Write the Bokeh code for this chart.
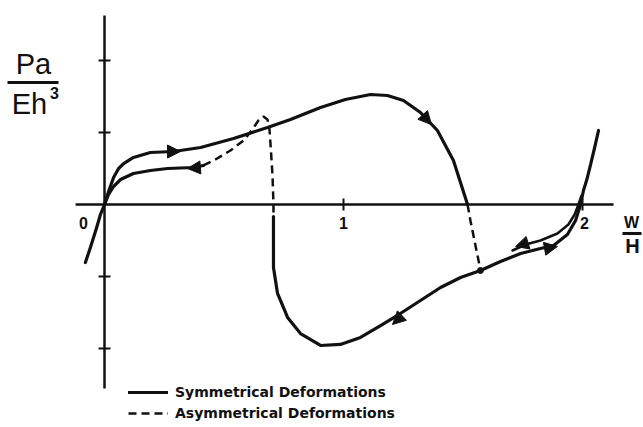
from bokeh.plotting import figure
from bokeh.models import Range1d, Label, Arrow, NormalHead, Legend, LegendItem
from bokeh.embed import file_html
from bokeh.resources import INLINE

# ---------------- data (w/H , Pa/Eh^3 in tick units) ----------------
# symmetrical loading path: through origin, up to the peak, down to the axis
load_x = [-0.080, -0.059, -0.034, -0.017, 0.0, 0.017, 0.038, 0.059, 0.080, 0.121, 0.192, 0.289,
          0.402, 0.540, 0.682, 0.778, 0.904, 1.008, 1.113, 1.184, 1.251, 1.322, 1.393, 1.460, 1.519]
load_y = [-0.806, -0.597, -0.333, -0.139, 0.0, 0.181, 0.375, 0.500, 0.569, 0.653, 0.722, 0.736,
          0.792, 0.917, 1.069, 1.181, 1.347, 1.458, 1.528, 1.514, 1.444, 1.278, 1.028, 0.611, 0.0]

# asymmetric (dashed) drop after the zero crossing
desc_x = [1.519, 1.531, 1.548, 1.565, 1.573]
desc_y = [0.0, -0.222, -0.500, -0.778, -0.917]

# lower symmetrical branch: from the snap-through line down, around the minimum, up past w/H = 2
lower_x = [0.707, 0.707, 0.707, 0.724, 0.766, 0.820, 0.904, 0.987, 1.071, 1.155, 1.238, 1.322,
           1.406, 1.490, 1.573, 1.657, 1.741, 1.824, 1.879, 1.937, 1.971, 1.992, 2.004, 2.017,
           2.033, 2.050, 2.067]
lower_y = [-0.167, -0.500, -0.875, -1.236, -1.569, -1.792, -1.958, -1.944, -1.847, -1.681, -1.514,
           -1.333, -1.153, -1.014, -0.917, -0.792, -0.681, -0.611, -0.569, -0.417, -0.222, 0.0,
           0.194, 0.333, 0.542, 0.778, 1.028]

# second strand of the small loop near w/H = 2
loop_x = [1.707, 1.762, 1.824, 1.895, 1.941, 1.967, 1.983, 1.996]
loop_y = [-0.639, -0.556, -0.500, -0.403, -0.278, -0.139, 0.0, 0.125]

# symmetrical return branch near the origin (lower plateau)
ret_x = [0.0, 0.017, 0.038, 0.067, 0.121, 0.192, 0.264, 0.372, 0.414]
ret_y = [0.0, 0.139, 0.250, 0.347, 0.431, 0.472, 0.500, 0.514, 0.542]

# asymmetrical (dashed) bump and snap line
bump_x = [0.414, 0.464, 0.527, 0.582, 0.619, 0.644, 0.665, 0.682, 0.690, 0.695, 0.703, 0.707, 0.707]
bump_y = [0.542, 0.625, 0.750, 0.889, 1.042, 1.167, 1.222, 1.181, 1.056, 0.819, 0.403, 0.0, -0.167]

# junction point
junc_x = [1.573]
junc_y = [-0.917]

# arrowheads (tail -> tip, along the curves)
arr_x0 = [0.255, 0.400, 1.322, 1.280, 1.803, 1.824]
arr_y0 = [0.736, 0.514, 1.278, -1.431, -0.500, -0.625]
arr_x1 = [0.318, 0.347, 1.368, 1.205, 1.720, 1.895]
arr_y1 = [0.736, 0.500, 1.110, -1.667, -0.583, -0.583]

# axes
x_axis_ext = [-0.121, 2.130]
y_axis_ext = [-2.556, 2.625]
x_ticks = [1, 2]
y_ticks = [-2, -1, 1, 2]
tick_label_x = [0, 1, 2]
tick_labels = ["0", "1", "2"]

legend_labels = ["Symmetrical Deformations", "Asymmetrical Deformations"]

# ---------------- layout helpers (page pixel -> data) ----------------
def X(px):
    return (px - 104) / 239.0

def Y(py):
    return (204 - py) / 72.0

W, H = 643, 427
p = figure(width=W, height=H, output_backend="svg", toolbar_location=None,
           x_range=Range1d(X(0), X(W)), y_range=Range1d(Y(H), Y(0)),
           x_axis_type=None, y_axis_type=None, min_border=0)
p.grid.visible = False
p.outline_line_color = None
p.background_fill_color = "white"

BLACK = "#111111"
LW = 3.2
DASH = "8 5"

# axes
p.line(x_axis_ext, [0, 0], line_color=BLACK, line_width=2.5)
p.line([0, 0], y_axis_ext, line_color=BLACK, line_width=2.5)
p.segment(x0=x_ticks, y0=[-0.083] * len(x_ticks), x1=x_ticks, y1=[0.083] * len(x_ticks),
          line_color=BLACK, line_width=2)
p.segment(x0=[-0.025] * len(y_ticks), y0=y_ticks, x1=[0.025] * len(y_ticks), y1=y_ticks,
          line_color=BLACK, line_width=2)

# curves
r_load = p.line(load_x, load_y, line_color=BLACK, line_width=LW, line_join="round", line_cap="round")
p.line(lower_x, lower_y, line_color=BLACK, line_width=LW, line_join="round", line_cap="round")
p.line(loop_x, loop_y, line_color=BLACK, line_width=2.5, line_join="round", line_cap="round")
p.line(ret_x, ret_y, line_color=BLACK, line_width=LW, line_join="round", line_cap="round")
r_bump = p.line(bump_x, bump_y, line_color=BLACK, line_width=2.5, line_dash=DASH)
p.line(desc_x, desc_y, line_color=BLACK, line_width=2.5, line_dash=DASH)
p.scatter(junc_x, junc_y, size=6, color=BLACK)

for x0, y0, x1, y1 in zip(arr_x0, arr_y0, arr_x1, arr_y1):
    p.add_layout(Arrow(x_start=x0, y_start=y0, x_end=x1, y_end=y1, line_alpha=0,
                       end=NormalHead(size=13, fill_color=BLACK, line_color=BLACK, line_width=1)))

# tick labels
label_offsets = {0: X(83), 1: 1.0, 2: X(584)}
for tx, lab in zip(tick_label_x, tick_labels):
    p.add_layout(Label(x=label_offsets[tx], y=Y(222), text=lab, text_align="center",
                       text_baseline="middle", text_font="Liberation Sans",
                       text_font_style="bold", text_font_size="16px", text_color=BLACK))

# y label  Pa / Eh^3
p.add_layout(Label(x=X(33), y=Y(63), text="Pa", text_align="center", text_baseline="middle",
                   text_font="Liberation Sans", text_font_size="29px", text_color=BLACK))
p.line([X(7), X(58)], [Y(82), Y(82)], line_color=BLACK, line_width=3)
p.add_layout(Label(x=X(29), y=Y(103), text="Eh", text_align="center", text_baseline="middle",
                   text_font="Liberation Sans", text_font_size="29px", text_color=BLACK))
p.add_layout(Label(x=X(54), y=Y(92), text="3", text_align="center", text_baseline="middle",
                   text_font="Liberation Sans", text_font_style="bold", text_font_size="16px",
                   text_color=BLACK))

# x label  W / H
p.add_layout(Label(x=X(631), y=Y(222), text="W", text_align="center", text_baseline="middle",
                   text_font="Liberation Sans", text_font_style="bold", text_font_size="16px",
                   text_color=BLACK))
p.line([X(622), X(641)], [Y(233), Y(233)], line_color=BLACK, line_width=3)
p.add_layout(Label(x=X(632), y=Y(245), text="H", text_align="center", text_baseline="middle",
                   text_font="Liberation Sans", text_font_style="bold", text_font_size="20px",
                   text_color=BLACK))

# legend
legend = Legend(items=[LegendItem(label=legend_labels[0], renderers=[r_load]),
                       LegendItem(label=legend_labels[1], renderers=[r_bump])],
                location=(128, 6), orientation="vertical",
                label_text_font="DejaVu Sans", label_text_font_style="bold",
                label_text_font_size="14px", label_text_color=BLACK,
                glyph_width=40, glyph_height=16, label_height=16, spacing=5,
                padding=0, margin=0, label_standoff=7,
                border_line_alpha=0, background_fill_alpha=0)
p.add_layout(legend)

open("out.html", "w").write(file_html(p, INLINE))
